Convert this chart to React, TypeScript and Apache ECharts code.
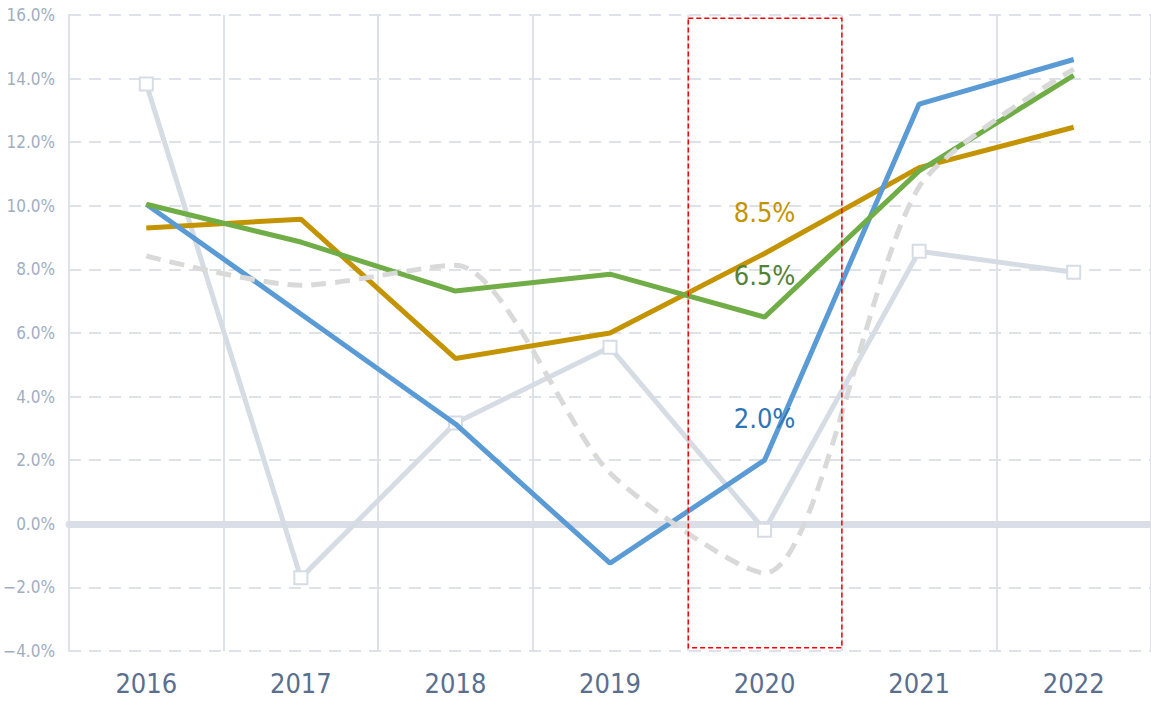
import React, { useEffect, useRef } from "react";
import * as echarts from "echarts";

const years = ["2016", "2017", "2018", "2019", "2020", "2021", "2022"];
const yTicks = [-4, 16, 2];
const graySquares = [13.83, -1.7, 3.17, 5.55, -0.2, 8.57, 7.91];
const grayDashed = [8.42, 7.5, 8.13, 1.6, -1.55, 10.6, 14.3];
const blueSeries = [10.05, 6.6, 3.14, -1.24, 2.0, 13.2, 14.6];
const greenSeries = [10.05, 8.86, 7.32, 7.85, 6.5, 11.1, 14.1];
const goldSeries = [9.3, 9.58, 5.2, 6.0, 8.5, 11.2, 12.47];
const highlightYear = "2020";

const FONT = "'DejaVu Sans Condensed', 'Liberation Sans Narrow', 'Liberation Sans', sans-serif";

export default function App() {
  const ref = useRef<HTMLDivElement>(null);
  useEffect(() => {
    if (!ref.current) return;
    const chart = echarts.init(ref.current, null, { renderer: "svg" });
    const hi = years.indexOf(highlightYear);
    const lbl = (color: string) => ({
      show: true,
      position: "top",
      distance: 28,
      fontFamily: FONT,
      fontSize: 27,
      color,
      formatter: (p: any) => (p.dataIndex === hi ? Number(p.value).toFixed(1) + "%" : ""),
    });
    const colored = (name: string, data: number[], color: string, labelColor: string, z: number) => ({
      name,
      type: "line",
      data,
      symbol: "circle",
      symbolSize: 0,
      showSymbol: true,
      lineStyle: { color, width: 5 },
      itemStyle: { color },
      label: lbl(labelColor),
      z,
    });
    chart.setOption({
      animation: false,
      grid: { left: 69, right: -3, top: 15, bottom: 50 },
      xAxis: {
        type: "category",
        data: years,
        boundaryGap: true,
        axisLine: { show: true, onZero: true, lineStyle: { color: "#dadee6", width: 7 } },
        axisTick: { show: false },
        axisLabel: { fontFamily: FONT, fontSize: 27, color: "#5a6f8e", margin: 19 },
        splitLine: { show: true, lineStyle: { color: "#dde1e8", width: 2, type: "solid" } },
      },
      yAxis: {
        type: "value",
        min: yTicks[0],
        max: yTicks[1],
        interval: yTicks[2],
        axisLine: { show: true, lineStyle: { color: "#dde1e8", width: 2 } },
        axisTick: { show: false },
        axisLabel: {
          fontFamily: FONT,
          fontSize: 17,
          color: "#a0aec3",
          margin: 14,
          formatter: (v: number) => (v < 0 ? "\u2212" + Math.abs(v).toFixed(1) : v.toFixed(1)) + "%",
        },
        splitLine: { show: true, lineStyle: { color: "#dde1e8", width: 2, type: [12, 8] } },
      },
      series: [
        {
          name: "gray",
          type: "line",
          data: graySquares,
          symbol: "rect",
          symbolSize: 13,
          showSymbol: true,
          lineStyle: { color: "#d6dce4", width: 5 },
          itemStyle: { color: "#ffffff", borderColor: "#d6dce4", borderWidth: 2 },
          z: 2,
        },
        colored("gold", goldSeries, "#c49400", "#c49400", 3),
        colored("blue", blueSeries, "#5b9bd5", "#2e75b6", 4),
        colored("green", greenSeries, "#70ad47", "#548235", 5),
        {
          name: "dashed",
          type: "line",
          data: grayDashed,
          symbol: "none",
          smooth: 0.25,
          lineStyle: { color: "#d9d9d9", width: 5, type: [15, 9] },
          z: 6,
        },
      ],
    });
    const c = chart.convertToPixel({ xAxisIndex: 0 }, highlightYear) as number;
    const prev = chart.convertToPixel({ xAxisIndex: 0 }, years[hi - 1]) as number;
    const band = c - prev;
    const yTop = chart.convertToPixel({ yAxisIndex: 0 }, yTicks[1] - 0.1) as number;
    const yBot = chart.convertToPixel({ yAxisIndex: 0 }, yTicks[0] + 0.1) as number;
    chart.setOption({
      graphic: [
        {
          type: "rect",
          shape: { x: c - band / 2 + 1, y: yTop, width: band - 1, height: yBot - yTop },
          style: { fill: "none", stroke: "#ff0000", lineWidth: 1.5, lineDash: [5, 3] },
          z: 100,
        },
      ],
    });
    return () => chart.dispose();
  }, []);
  return (
    <div
      ref={ref}
      style={{ position: "fixed", left: 0, top: 0, width: 1151, height: 701, background: "#fff" }}
    />
  );
}
